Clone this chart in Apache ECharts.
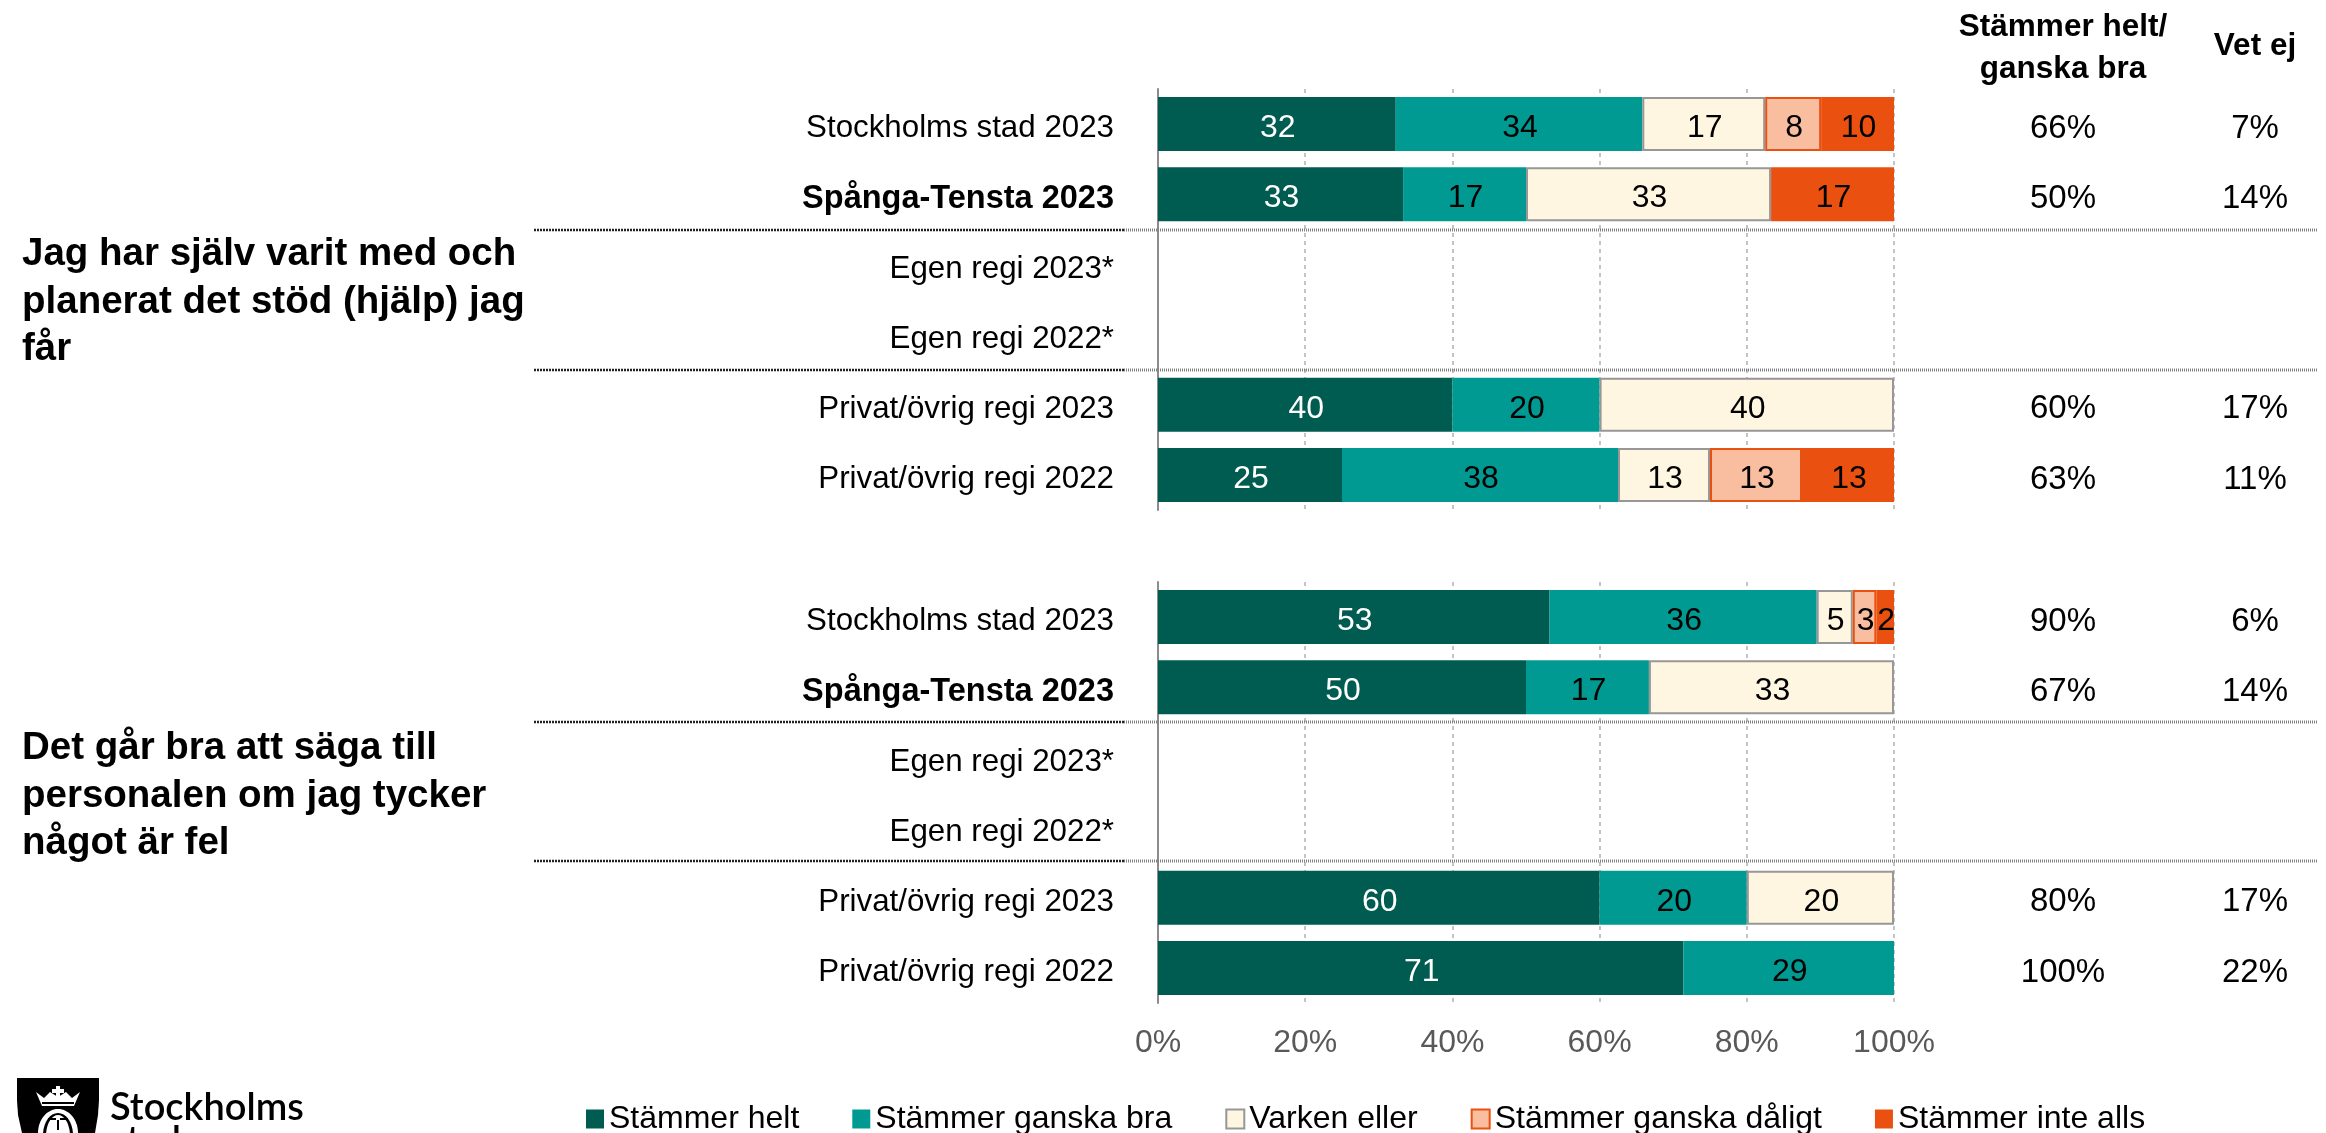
<!DOCTYPE html>
<html><head><meta charset="utf-8">
<style>html,body{margin:0;padding:0;background:#fff}#c{width:2326px;height:1133px}</style>
<script src="https://cdn.jsdelivr.net/npm/echarts@6/dist/echarts.min.js"></script>
</head><body><div id="c"></div>
<script>
const categories = ['Stockholms stad 2023','Spånga-Tensta 2023','Egen regi 2023*','Egen regi 2022*','Privat/övrig regi 2023','Privat/övrig regi 2022'];
const boldCategory = 'Spånga-Tensta 2023';
const seriesNames = ['Stämmer helt','Stämmer ganska bra','Varken eller','Stämmer ganska dåligt','Stämmer inte alls'];

const p1Helt   = [32.3,33.3,null,null,40,25];
const p1Ganska = [33.5,16.7,null,null,20,37.5];
const p1Varken = [16.7,33.3,null,null,40,12.5];
const p1Daligt = [7.6,null,null,null,null,12.5];
const p1Inte   = [9.9,16.7,null,null,null,12.5];
const p1Total  = ['66%','50%','','','60%','63%'];
const p1VetEj  = ['7%','14%','','','17%','11%'];

const p2Helt   = [53.2,50,null,null,60,71.4];
const p2Ganska = [36.3,16.7,null,null,20,28.6];
const p2Varken = [4.9,33.3,null,null,20,null];
const p2Daligt = [3.2,null,null,null,null,null];
const p2Inte   = [2.4,null,null,null,null,null];
const p2Total  = ['90%','67%','','','80%','100%'];
const p2VetEj  = ['6%','14%','','','17%','22%'];

const panels = [
  {values:[p1Helt,p1Ganska,p1Varken,p1Daligt,p1Inte], total:p1Total, vet:p1VetEj},
  {values:[p2Helt,p2Ganska,p2Varken,p2Daligt,p2Inte], total:p2Total, vet:p2VetEj}
];
const questions = ['Jag har själv varit med och\nplanerat det stöd (hjälp) jag\nfår','Det går bra att säga till\npersonalen om jag tycker\nnågot är fel'];
const headerTotal = 'Stämmer helt/\nganska bra';
const headerVet = 'Vet ej';

const FONT = 'Liberation Sans';
const styles = [
  {color:'#005C50',borderColor:'#005C50',borderWidth:0},
  {color:'#009A93',borderColor:'#009A93',borderWidth:0},
  {color:'#FEF6E1',borderColor:'#979797',borderWidth:2},
  {color:'#F9BE9F',borderColor:'#EA5010',borderWidth:2},
  {color:'#EA5010',borderColor:'#EA5010',borderWidth:0}
];
const grids = [
  {left:1158,width:736,top:89,height:421},
  {left:1158,width:736,top:582,height:421}
];
const xAxes = grids.map((g,i)=>({
  type:'value',gridIndex:i,min:0,max:100,interval:20,
  axisLine:{show:false},axisTick:{show:false},
  splitLine:{show:true,lineStyle:{color:'#C4C4C4',width:2,type:[4,4]}},
  axisLabel:{show:i===1,margin:24,color:'#595959',fontFamily:FONT,fontSize:32,formatter:'{value}%'}
}));
const richShift = 9;
const rich = {
  n:{fontFamily:FONT,fontSize:31.3,color:'#000',padding:[richShift,0,0,0]},
  b:{fontFamily:FONT,fontSize:32.5,fontWeight:'bold',color:'#000',padding:[richShift,0,0,0]},
  p:{fontFamily:FONT,fontSize:33,color:'#000',padding:[richShift,0,0,0]}
};
const yAxes = [];
const series = [];
panels.forEach((p,i)=>{
  const base = yAxes.length;
  yAxes.push({
    type:'category',gridIndex:i,inverse:true,position:'left',
    data:categories,
    axisLine:{show:true,lineStyle:{color:'#8C8C8C',width:2}},axisTick:{show:false},
    axisLabel:{margin:44,interval:0,rich,formatter:v=>`{${v===boldCategory?'b':'n'}|${v}}`}
  });
  [[p.total,169],[p.vet,361]].forEach(([col,m])=>{
    yAxes.push({
      type:'category',gridIndex:i,inverse:true,position:'right',
      data:col,
      axisLine:{show:false},axisTick:{show:false},
      axisLabel:{margin:m,interval:0,align:'center',rich,formatter:v=>v?`{p|${v}}`:''}
    });
  });
  p.values.forEach((vals,s)=>{
    series.push({
      type:'bar',name:seriesNames[s],stack:'p'+i,xAxisIndex:i,yAxisIndex:base,
      barWidth:54,data:vals,itemStyle:styles[s],
      label:{show:true,position:'inside',offset:[1,4],fontFamily:FONT,fontSize:32,
        color:s===0?'#fff':'#000',
        formatter:d=>d.value==null?'':String(Math.round(d.value))},
      emphasis:{disabled:true},animation:false
    });
  });
});
const dividerY = [230,370,722,861];
const dividers = [];
dividerY.forEach(y=>{
  dividers.push({type:'line',silent:true,z:5,shape:{x1:534,y1:y,x2:1124,y2:y},style:{stroke:'#222',lineWidth:2.5,lineDash:[2,1]}});
  dividers.push({type:'line',silent:true,z:5,shape:{x1:1124,y1:y,x2:2318,y2:y},style:{stroke:'#808080',lineWidth:3,lineDash:[1,1]}});
});
const textEl = (x,y,text,size,weight,align,lh,family)=>({type:'text',silent:true,z:6,x,y,style:{
  text,fontFamily:family||FONT,fontSize:size,fontWeight:weight,fill:'#000',align,verticalAlign:'middle',lineHeight:lh}});
const logo = [
  {type:'polygon',silent:true,shape:{points:[[17,1078],[99,1078],[99,1100],[98,1115],[95,1133],[22,1133],[18,1115],[17,1100]]},style:{fill:'#000'}},
  {type:'polygon',silent:true,z:6,shape:{points:[[36,1092],[44,1098],[50,1092],[58,1097],[66,1092],[72,1098],[80,1092],[74,1106],[42,1106]]},style:{fill:'#fff'}},
  {type:'rect',silent:true,z:6,shape:{x:56,y:1086,width:4,height:11},style:{fill:'#fff'}},
  {type:'rect',silent:true,z:6,shape:{x:52,y:1089,width:12,height:4},style:{fill:'#fff'}},
  {type:'rect',silent:true,z:7,shape:{x:42,y:1102,width:32,height:2},style:{fill:'#000'}},
  {type:'ellipse',silent:true,z:6,shape:{cx:58,cy:1133,rx:20,ry:24},style:{fill:'#fff'}},
  {type:'ellipse',silent:true,z:7,shape:{cx:58,cy:1135,rx:15,ry:22},style:{fill:'#000'}},
  {type:'ellipse',silent:true,z:8,shape:{cx:58,cy:1136,rx:12,ry:21},style:{fill:'#fff'}},
  {type:'rect',silent:true,z:9,shape:{x:48,y:1118,width:8,height:2},style:{fill:'#000'}},
  {type:'rect',silent:true,z:9,shape:{x:60,y:1118,width:8,height:2},style:{fill:'#000'}},
  {type:'rect',silent:true,z:9,shape:{x:57,y:1120,width:2,height:10},style:{fill:'#000'}},
  {type:'text',silent:true,x:110,y:1108,style:{text:'Stockholms',fontFamily:'Lato',fontSize:38,fontWeight:600,fill:'#000',verticalAlign:'middle'}},
  {type:'text',silent:true,x:110,y:1141,style:{text:'stad',fontFamily:'Lato',fontSize:38,fontWeight:600,fill:'#000',verticalAlign:'middle'}}
];
const chart = echarts.init(document.getElementById('c'),null,{renderer:'canvas',width:2326,height:1133});
chart.setOption({
  animation:false,backgroundColor:'#fff',
  grid:grids,xAxis:xAxes,yAxis:yAxes,series,
  legend:{data:seriesNames,left:586,top:1103,padding:0,icon:'rect',itemWidth:18,itemHeight:19,itemGap:53,
    selectedMode:false,textStyle:{fontFamily:FONT,fontSize:32,color:'#000'}},
  graphic:{elements:[
    ...dividers,
    textEl(22,302,questions[0],38.5,'bold','left',47.5),
    textEl(22,796,questions[1],38.5,'bold','left',47.5),
    textEl(2063,48,headerTotal,31.5,'bold','center',42),
    textEl(2255,46,headerVet,31.5,'bold','center',42),
    ...logo
  ]}
});
</script></body></html>
